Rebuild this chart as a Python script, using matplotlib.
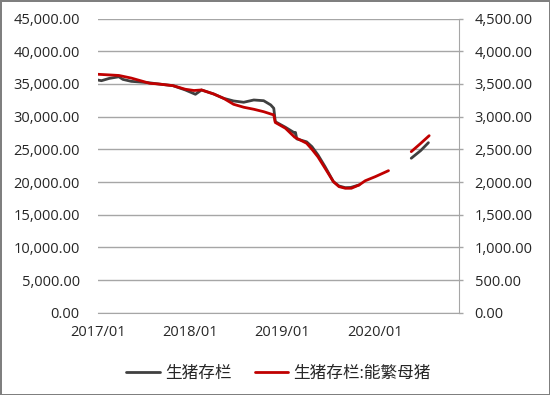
import numpy as np
import pandas as pd
import matplotlib
matplotlib.use("Agg")
import matplotlib.pyplot as plt
import matplotlib.dates as mdates
from matplotlib.ticker import MultipleLocator, FuncFormatter

plt.rcParams['font.family'] = ['Open Sans', 'Noto Sans CJK SC', 'DejaVu Sans']

# 生猪存栏 (left axis)
hog_dates = ["2017-01-01", "2017-01-15", "2017-02-15", "2017-03-25", "2017-04-10",
             "2017-05-13", "2017-07-19", "2017-08-28", "2017-10-25", "2017-12-13",
             "2018-01-22", "2018-02-15", "2018-04-04", "2018-05-13", "2018-06-22",
             "2018-08-01", "2018-09-10", "2018-10-19", "2018-11-16", "2018-11-28",
             "2018-12-04", "2019-01-13", "2019-02-19", "2019-02-22", "2019-02-27",
             "2019-04-07", "2019-04-28", "2019-05-22", "2019-06-19", "2019-07-22",
             "2019-08-13", "2019-09-07", "2019-09-28", "2019-11-01", "2020-03-01",
             "2020-05-25", "2020-07-01", "2020-08-01"]
hog_values = [35600, 35500, 35850, 36100, 35700,
              35400, 35200, 35000, 34740, 34080,
              33420, 34080, 33470, 32810, 32400,
              32200, 32550, 32440, 31790, 31280,
              29230, 28380, 27500, 27580, 26600,
              26150, 25410, 24140, 22350, 20060,
              19400, 19140, 19170, 19560, np.nan,
              23640, 24800, 26020]

# 生猪存栏:能繁母猪 (right axis)
sow_dates = ["2017-01-01", "2017-03-25", "2017-05-13", "2017-07-25", "2017-08-28",
             "2017-10-25", "2017-12-13", "2018-01-16", "2018-02-15", "2018-04-04",
             "2018-05-13", "2018-06-22", "2018-08-01", "2018-09-10", "2018-10-19",
             "2018-11-28", "2018-12-04", "2019-01-13", "2019-02-19", "2019-04-07",
             "2019-04-28", "2019-05-22", "2019-06-19", "2019-07-22", "2019-08-13",
             "2019-09-07", "2019-10-01", "2019-11-01", "2019-11-25", "2020-01-04",
             "2020-02-25", "2020-04-01", "2020-05-25", "2020-07-01", "2020-08-04"]
sow_values = [3648, 3630, 3590, 3510, 3500,
              3474, 3419, 3400, 3408, 3347,
              3281, 3189, 3144, 3113, 3076,
              3026, 2911, 2823, 2685, 2593,
              2501, 2384, 2211, 2006, 1930,
              1905, 1905, 1956, 2020, 2083,
              2174, np.nan, 2465, 2590, 2709]

labels = ["生猪存栏", "生猪存栏:能繁母猪"]
year_ticks = ["2017-01-01", "2018-01-01", "2019-01-01", "2020-01-01"]

grid_col = "#a6a6a6"
text_col = "#262626"

fig = plt.figure(figsize=(5.5, 3.95), dpi=100)
fig.patch.set_edgecolor("#7f7f7f")
fig.patch.set_linewidth(2)
ax = fig.add_axes([0.178, 0.208, 0.657, 0.745])
ax2 = ax.twinx()

l1, = ax.plot(pd.to_datetime(hog_dates), hog_values, color="#404040", lw=2,
              solid_capstyle="round", solid_joinstyle="round")
l2, = ax2.plot(pd.to_datetime(sow_dates), sow_values, color="#c00000", lw=2,
               solid_capstyle="round", solid_joinstyle="round")

ax.set_xlim(pd.Timestamp("2017-01-01"), pd.Timestamp("2020-12-01"))
ax.set_ylim(0, 45000)
ax2.set_ylim(0, 4500)
ax.yaxis.set_major_locator(MultipleLocator(5000))
ax2.yaxis.set_major_locator(MultipleLocator(500))
fmt = FuncFormatter(lambda v, p: f"{v:,.2f}")
ax.yaxis.set_major_formatter(fmt)
ax2.yaxis.set_major_formatter(fmt)

ax.set_xticks(pd.to_datetime(year_ticks))
ax.xaxis.set_major_formatter(mdates.DateFormatter("%Y/%m"))

ax.grid(axis="y", color=grid_col, lw=1)
ax.set_axisbelow(True)
for s in ["top", "left", "right"]:
    ax.spines[s].set_visible(False)
ax.spines["bottom"].set_color(grid_col)
for s in ["top", "left", "bottom"]:
    ax2.spines[s].set_visible(False)
ax2.spines["right"].set_color(grid_col)

ax.tick_params(axis="y", length=0, pad=13, labelsize=10.5, labelcolor=text_col)
ax.tick_params(axis="x", length=0, pad=9, labelsize=10.5, labelcolor=text_col)
ax2.tick_params(axis="y", length=3, width=1, color=grid_col, pad=8,
                labelsize=10.5, labelcolor=text_col)

fig.legend([l1, l2], labels, loc="center", bbox_to_anchor=(0.506, 0.054),
           ncol=2, frameon=False, fontsize=12, handlelength=2.0,
           handletextpad=0.3, columnspacing=1.4, labelcolor=text_col)

fig.savefig("out.png", dpi=100)
